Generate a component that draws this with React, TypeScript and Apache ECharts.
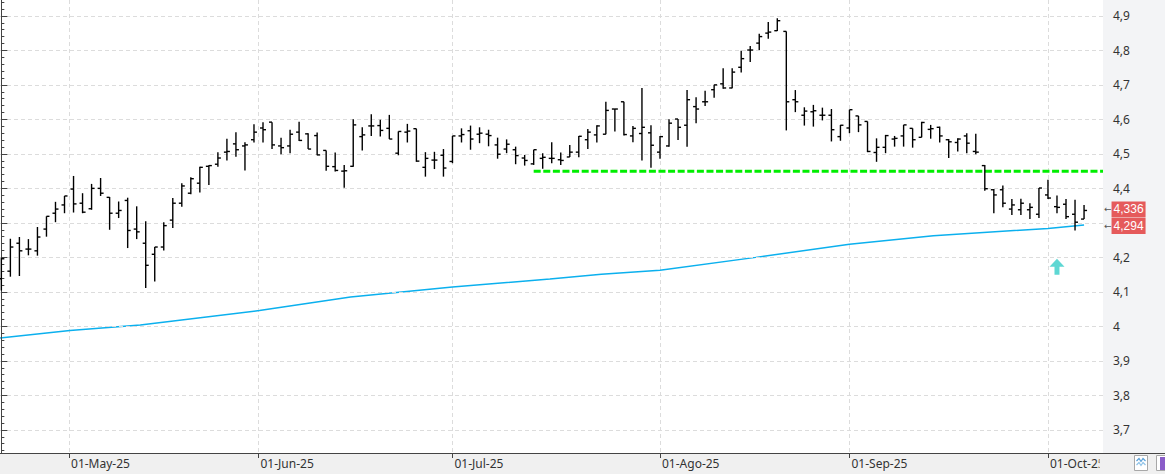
import React, { useEffect, useRef } from 'react';
import * as echarts from 'echarts';

// Trading days (index 0 = 17-Apr-25 ... index 120 = 07-Oct-25)
const dates = [
  '04-17', '04-22', '04-23', '04-24', '04-25', '04-28', '04-29', '04-30',
  '05-02', '05-05', '05-06', '05-07', '05-08', '05-09', '05-12', '05-13', '05-14', '05-15', '05-16',
  '05-19', '05-20', '05-21', '05-22', '05-23', '05-26', '05-27', '05-28', '05-29', '05-30',
  '06-02', '06-03', '06-04', '06-05', '06-06', '06-09', '06-10', '06-11', '06-12', '06-13',
  '06-16', '06-17', '06-18', '06-19', '06-20', '06-23', '06-24', '06-25', '06-26', '06-27', '06-30',
  '07-01', '07-02', '07-03', '07-04', '07-07', '07-08', '07-09', '07-10', '07-11', '07-14', '07-15',
  '07-16', '07-17', '07-18', '07-21', '07-22', '07-23', '07-24', '07-25', '07-28', '07-29', '07-30', '07-31',
  '08-01', '08-04', '08-05', '08-06', '08-07', '08-08', '08-11', '08-12', '08-13', '08-14', '08-15',
  '08-18', '08-19', '08-20', '08-21', '08-22', '08-25', '08-26', '08-27', '08-28', '08-29',
  '09-01', '09-02', '09-03', '09-04', '09-05', '09-08', '09-09', '09-10', '09-11', '09-12',
  '09-15', '09-16', '09-17', '09-18', '09-19', '09-22', '09-23', '09-24', '09-25', '09-26', '09-29', '09-30',
  '10-01', '10-02', '10-03', '10-06', '10-07',
];

const opens = [
  4.138, 4.160, 4.241, 4.224, 4.219, 4.282, 4.328, 4.352, 4.398, 4.357,
  4.341, 4.400, 4.374, 4.328, 4.365, 4.282, 4.241, 4.209, 4.230, 4.308,
  4.357, 4.386, 4.415, 4.464, 4.470, 4.505, 4.529, 4.523, 4.541, 4.575,
  4.592, 4.523, 4.523, 4.563, 4.558, 4.553, 4.510, 4.463, 4.450, 4.464,
  4.550, 4.581, 4.582, 4.574, 4.502, 4.563, 4.573, 4.461, 4.482, 4.496,
  4.478, 4.552, 4.567, 4.557, 4.557, 4.526, 4.514, 4.512, 4.488, 4.471,
  4.487, 4.487, 4.483, 4.491, 4.505, 4.541, 4.555, 4.557, 4.630, 4.651,
  4.552, 4.559, 4.561, 4.505, 4.523, 4.601, 4.583, 4.637, 4.651, 4.686,
  4.703, 4.691, 4.751, 4.801, 4.821, 4.850, 4.857, 4.855, 4.657, 4.612,
  4.622, 4.612, 4.612, 4.550, 4.575, 4.610, 4.594, 4.504, 4.519, 4.543,
  4.552, 4.574, 4.548, 4.571, 4.577, 4.541, 4.533, 4.552, 4.507, 4.466,
  4.396, 4.396, 4.340, 4.338, 4.338, 4.325, 4.381, 4.347, 4.354, 4.325,
  4.311,
];
const highs = [
  4.199, 4.254, 4.259, 4.253, 4.288, 4.319, 4.361, 4.378, 4.436, 4.386,
  4.413, 4.430, 4.375, 4.362, 4.373, 4.348, 4.305, 4.230, 4.302, 4.372,
  4.415, 4.432, 4.463, 4.467, 4.505, 4.544, 4.563, 4.534, 4.586, 4.592,
  4.592, 4.547, 4.570, 4.593, 4.560, 4.562, 4.510, 4.504, 4.468, 4.600,
  4.577, 4.615, 4.599, 4.613, 4.565, 4.587, 4.573, 4.505, 4.506, 4.514,
  4.552, 4.574, 4.582, 4.577, 4.570, 4.547, 4.542, 4.521, 4.497, 4.512,
  4.502, 4.534, 4.504, 4.526, 4.552, 4.572, 4.583, 4.651, 4.630, 4.651,
  4.581, 4.691, 4.583, 4.552, 4.600, 4.601, 4.685, 4.664, 4.683, 4.700,
  4.748, 4.748, 4.799, 4.813, 4.848, 4.882, 4.893, 4.855, 4.685, 4.635,
  4.642, 4.634, 4.630, 4.584, 4.628, 4.610, 4.594, 4.545, 4.555, 4.552,
  4.584, 4.574, 4.593, 4.584, 4.579, 4.543, 4.545, 4.560, 4.558, 4.468,
  4.398, 4.408, 4.369, 4.370, 4.357, 4.401, 4.425, 4.379, 4.369, 4.367,
  4.352,
];
const lows = [
  4.104, 4.144, 4.146, 4.206, 4.205, 4.260, 4.302, 4.328, 4.330, 4.328,
  4.338, 4.378, 4.280, 4.314, 4.227, 4.253, 4.111, 4.130, 4.220, 4.285,
  4.347, 4.383, 4.388, 4.410, 4.463, 4.481, 4.492, 4.452, 4.533, 4.533,
  4.514, 4.499, 4.502, 4.537, 4.514, 4.496, 4.451, 4.449, 4.402, 4.463,
  4.510, 4.552, 4.550, 4.543, 4.496, 4.533, 4.477, 4.434, 4.456, 4.434,
  4.473, 4.533, 4.512, 4.531, 4.522, 4.486, 4.502, 4.470, 4.466, 4.468,
  4.457, 4.473, 4.468, 4.491, 4.490, 4.514, 4.533, 4.557, 4.565, 4.553,
  4.534, 4.481, 4.460, 4.486, 4.521, 4.540, 4.521, 4.589, 4.639, 4.663,
  4.689, 4.690, 4.736, 4.766, 4.801, 4.834, 4.856, 4.568, 4.621, 4.582,
  4.579, 4.597, 4.536, 4.538, 4.560, 4.563, 4.505, 4.477, 4.502, 4.521,
  4.521, 4.518, 4.548, 4.544, 4.533, 4.488, 4.507, 4.502, 4.499, 4.393,
  4.328, 4.345, 4.323, 4.323, 4.311, 4.314, 4.369, 4.328, 4.311, 4.278,
  4.311,
];
const closes = [
  4.196, 4.230, 4.219, 4.224, 4.259, 4.319, 4.340, 4.378, 4.355, 4.331,
  4.400, 4.386, 4.328, 4.336, 4.278, 4.274, 4.177, 4.230, 4.292, 4.357,
  4.407, 4.428, 4.461, 4.466, 4.488, 4.507, 4.512, 4.526, 4.563, 4.570,
  4.526, 4.518, 4.557, 4.539, 4.514, 4.497, 4.464, 4.452, 4.451, 4.584,
  4.555, 4.581, 4.568, 4.543, 4.565, 4.566, 4.479, 4.487, 4.482, 4.459,
  4.552, 4.556, 4.543, 4.560, 4.553, 4.499, 4.528, 4.495, 4.481, 4.512,
  4.490, 4.487, 4.481, 4.505, 4.551, 4.563, 4.581, 4.626, 4.630, 4.556,
  4.574, 4.577, 4.525, 4.550, 4.589, 4.577, 4.657, 4.630, 4.651, 4.700,
  4.691, 4.737, 4.776, 4.801, 4.840, 4.853, 4.886, 4.651, 4.651, 4.624,
  4.625, 4.612, 4.570, 4.583, 4.628, 4.584, 4.507, 4.519, 4.553, 4.545,
  4.584, 4.541, 4.591, 4.573, 4.552, 4.535, 4.543, 4.531, 4.505, 4.399,
  4.381, 4.357, 4.352, 4.357, 4.345, 4.401, 4.372, 4.345, 4.318, 4.302,
  4.336,
];

// Moving average line, read at a few points (bar index, value)
const maIndex = [-0.15, 7.6, 15.4, 28.6, 38.7, 50, 60.8, 66.5, 73, 83.6, 94, 103.3, 116, 120];
const maValues = [3.966, 3.988, 4.004, 4.046, 4.085, 4.114, 4.137, 4.151, 4.163, 4.2, 4.238, 4.263, 4.284, 4.294];

// Month marks on the time axis (1st of each month, between bars when it is not a trading day)
const monthTickIndex = [7.5, 28.5, 50, 73, 94, 116];
const monthTickLabels = ['01-May-25', '01-Jun-25', '01-Jul-25', '01-Ago-25', '01-Sep-25', '01-Oct-25'];

// Price ticks; the 4,3 label is hidden behind the last-value boxes in the reference
const priceTicks = [3.7, 3.8, 3.9, 4.0, 4.1, 4.2, 4.3, 4.4, 4.5, 4.6, 4.7, 4.8, 4.9];
const priceLabels = [3.7, 3.8, 3.9, 4.0, 4.1, 4.2, 4.4, 4.5, 4.6, 4.7, 4.8, 4.9];

const supportLevel = 4.45;
const supportStartIndex = 59;
const lastClose = 4.336;
const lastMA = 4.294;
const signalIndex = 117;
const signalValue = 4.173;

const X_MIN = -0.15;
const X_MAX = 122.1;
const Y_MIN = 3.633;
const Y_MAX = 4.946;

const comma = (v: number, d: number) => v.toFixed(d).replace('.', ',');

export default function App() {
  const ref = useRef<HTMLDivElement>(null);

  useEffect(() => {
    if (!ref.current) return;
    const chart = echarts.init(ref.current, null, { renderer: 'svg' });

    const ohlc = dates.map((_, i) => [i, opens[i], highs[i], lows[i], closes[i]]);
    const ma = maIndex.map((x, i) => [x, maValues[i]]);

    const labelFont = '"Noto Sans", "Open Sans", sans-serif';
    const boxFont = '"Liberation Sans", Arial, sans-serif';

    chart.setOption({
      animation: false,
      backgroundColor: '#ffffff',
      grid: { left: 0, right: 62, top: 0, bottom: 21, containLabel: false },
      xAxis: {
        type: 'value',
        min: X_MIN,
        max: X_MAX,
        z: 0,
        axisLine: { show: true, lineStyle: { color: '#444', width: 1 } },
        axisTick: {
          show: true,
          customValues: monthTickIndex,
          length: 5,
          lineStyle: { color: '#444' },
        },
        axisLabel: {
          show: true,
          customValues: monthTickIndex,
          align: 'left',
          margin: 4,
          padding: [0, 0, 0, 2],
          color: '#333',
          fontSize: 12,
          fontFamily: labelFont,
          formatter: (v: number) => {
            let best = 0;
            monthTickIndex.forEach((t, k) => {
              if (Math.abs(t - v) < Math.abs(monthTickIndex[best] - v)) best = k;
            });
            return monthTickLabels[best];
          },
        },
        splitLine: { show: true, lineStyle: { color: '#dcdcdc', type: [4, 3], width: 1 } },
      },
      yAxis: {
        type: 'value',
        position: 'right',
        min: Y_MIN,
        max: Y_MAX,
        splitNumber: 13,
        z: 3,
        axisLine: { show: true, lineStyle: { color: '#444', width: 1 } },
        axisTick: { show: true, customValues: priceTicks, length: 6, lineStyle: { color: '#444' } },
        minorTick: { show: true, splitNumber: 5, length: 3, lineStyle: { color: '#444' } },
        axisLabel: {
          show: true,
          customValues: priceLabels,
          margin: 10,
          color: '#333',
          fontSize: 12,
          fontFamily: labelFont,
          formatter: (v: number) => String(Number(v.toFixed(1))).replace('.', ','),
        },
        splitLine: { show: true, lineStyle: { color: '#dcdcdc', type: [4, 3], width: 1 } },
      },
      series: [
        {
          name: 'MA',
          type: 'line',
          data: ma,
          showSymbol: false,
          symbol: 'none',
          lineStyle: { color: '#0bb0ee', width: 1.5 },
          z: 2,
          markLine: {
            silent: true,
            symbol: 'none',
            precision: 3,
            z: 6,
            lineStyle: { color: 'rgba(0,0,0,0)', width: 1, opacity: 1 },
            label: {
              show: true,
              position: 'end',
              distance: 0,
              opacity: 1,
              formatter: (p: any) => `{a|←}{b|${comma(Number(p.value), 3)}}`,
              rich: {
                a: { color: '#555', fontSize: 9, padding: [0, 0, 0, 1], fontFamily: '"DejaVu Sans", sans-serif' },
                b: {
                  color: '#ffffff',
                  backgroundColor: '#e55a5b',
                  fontSize: 12,
                  padding: [2, 2, 2, 2],
                  fontFamily: boxFont,
                },
              },
            },
            data: [
              { yAxis: lastClose, label: { offset: [0, -1] } },
              { yAxis: lastMA, label: { offset: [0, 1] } },
            ],
          },
        },
        {
          name: 'Support',
          type: 'line',
          data: [
            [supportStartIndex, supportLevel],
            [X_MAX, supportLevel],
          ],
          showSymbol: false,
          symbol: 'none',
          lineStyle: { color: '#00ee00', width: 3, type: [7, 2.6] },
          z: 3,
        },
        {
          name: 'OHLC',
          type: 'custom',
          data: ohlc,
          encode: { x: 0, y: [1, 2, 3, 4] },
          clip: true,
          z: 4,
          renderItem: (_params: any, api: any) => {
            const x = api.value(0);
            const o = api.coord([x, api.value(1)]);
            const h = api.coord([x, api.value(2)]);
            const l = api.coord([x, api.value(3)]);
            const c = api.coord([x, api.value(4)]);
            const style = { stroke: '#000', lineWidth: 1.4 };
            const t = 3;
            return {
              type: 'group',
              children: [
                { type: 'line', shape: { x1: h[0], y1: h[1], x2: l[0], y2: l[1] }, style },
                { type: 'line', shape: { x1: o[0] - t, y1: o[1], x2: o[0], y2: o[1] }, style },
                { type: 'line', shape: { x1: c[0], y1: c[1], x2: c[0] + t, y2: c[1] }, style },
              ],
            };
          },
        },
        {
          name: 'Signal',
          type: 'scatter',
          data: [[signalIndex, signalValue]],
          symbol: 'path://M7.5,0 L15,8 L10,8 L10,16 L5,16 L5,8 L0,8 Z',
          symbolSize: [15, 16],
          itemStyle: { color: '#35cdc8' },
          z: 5,
        },
      ],
      graphic: [
        { type: 'rect', z: -10, silent: true, shape: { x: 0, y: 453, width: 1165, height: 21 }, style: { fill: '#f0f0f0' } },
        { type: 'rect', z: -10, silent: true, shape: { x: 1103, y: 0, width: 62, height: 453 }, style: { fill: '#f3f4f6' } },
        { type: 'rect', z: 1, silent: true, shape: { x: 1099.5, y: 454, width: 66, height: 20 }, style: { fill: '#f0f0f0' } },
        { type: 'line', z: 1, silent: true, shape: { x1: 1103, y1: 453.5, x2: 1165, y2: 453.5 }, style: { stroke: '#444', lineWidth: 1 } },
        { type: 'rect', z: 2, silent: true, shape: { x: 1134.5, y: 455.5, width: 13, height: 15 }, style: { fill: '#fff', stroke: '#a8a8a8', lineWidth: 1 } },
        { type: 'polyline', z: 3, silent: true, shape: { points: [[1136.5, 461], [1139, 458.5], [1141, 461.5], [1143, 458.5], [1145.5, 461]] }, style: { stroke: '#5aa0d8', lineWidth: 1.2, fill: 'none' } },
        { type: 'polyline', z: 3, silent: true, shape: { points: [[1136.5, 465], [1139, 462.5], [1141, 465.5], [1143, 462.5], [1145.5, 465]] }, style: { stroke: '#8fc3e8', lineWidth: 1.2, fill: 'none' } },
        { type: 'rect', z: 2, silent: true, shape: { x: 1156.5, y: 455.5, width: 13, height: 15 }, style: { fill: '#fff', stroke: '#a8a8a8', lineWidth: 1 } },
        { type: 'rect', z: 3, silent: true, shape: { x: 1160, y: 457, width: 5, height: 13 }, style: { fill: '#8a5cc8' } },
      ],
    });

    return () => chart.dispose();
  }, []);

  return (
    <div
      ref={ref}
      style={{ position: 'fixed', left: 0, top: 0, width: 1165, height: 474, background: '#fff' }}
    />
  );
}
